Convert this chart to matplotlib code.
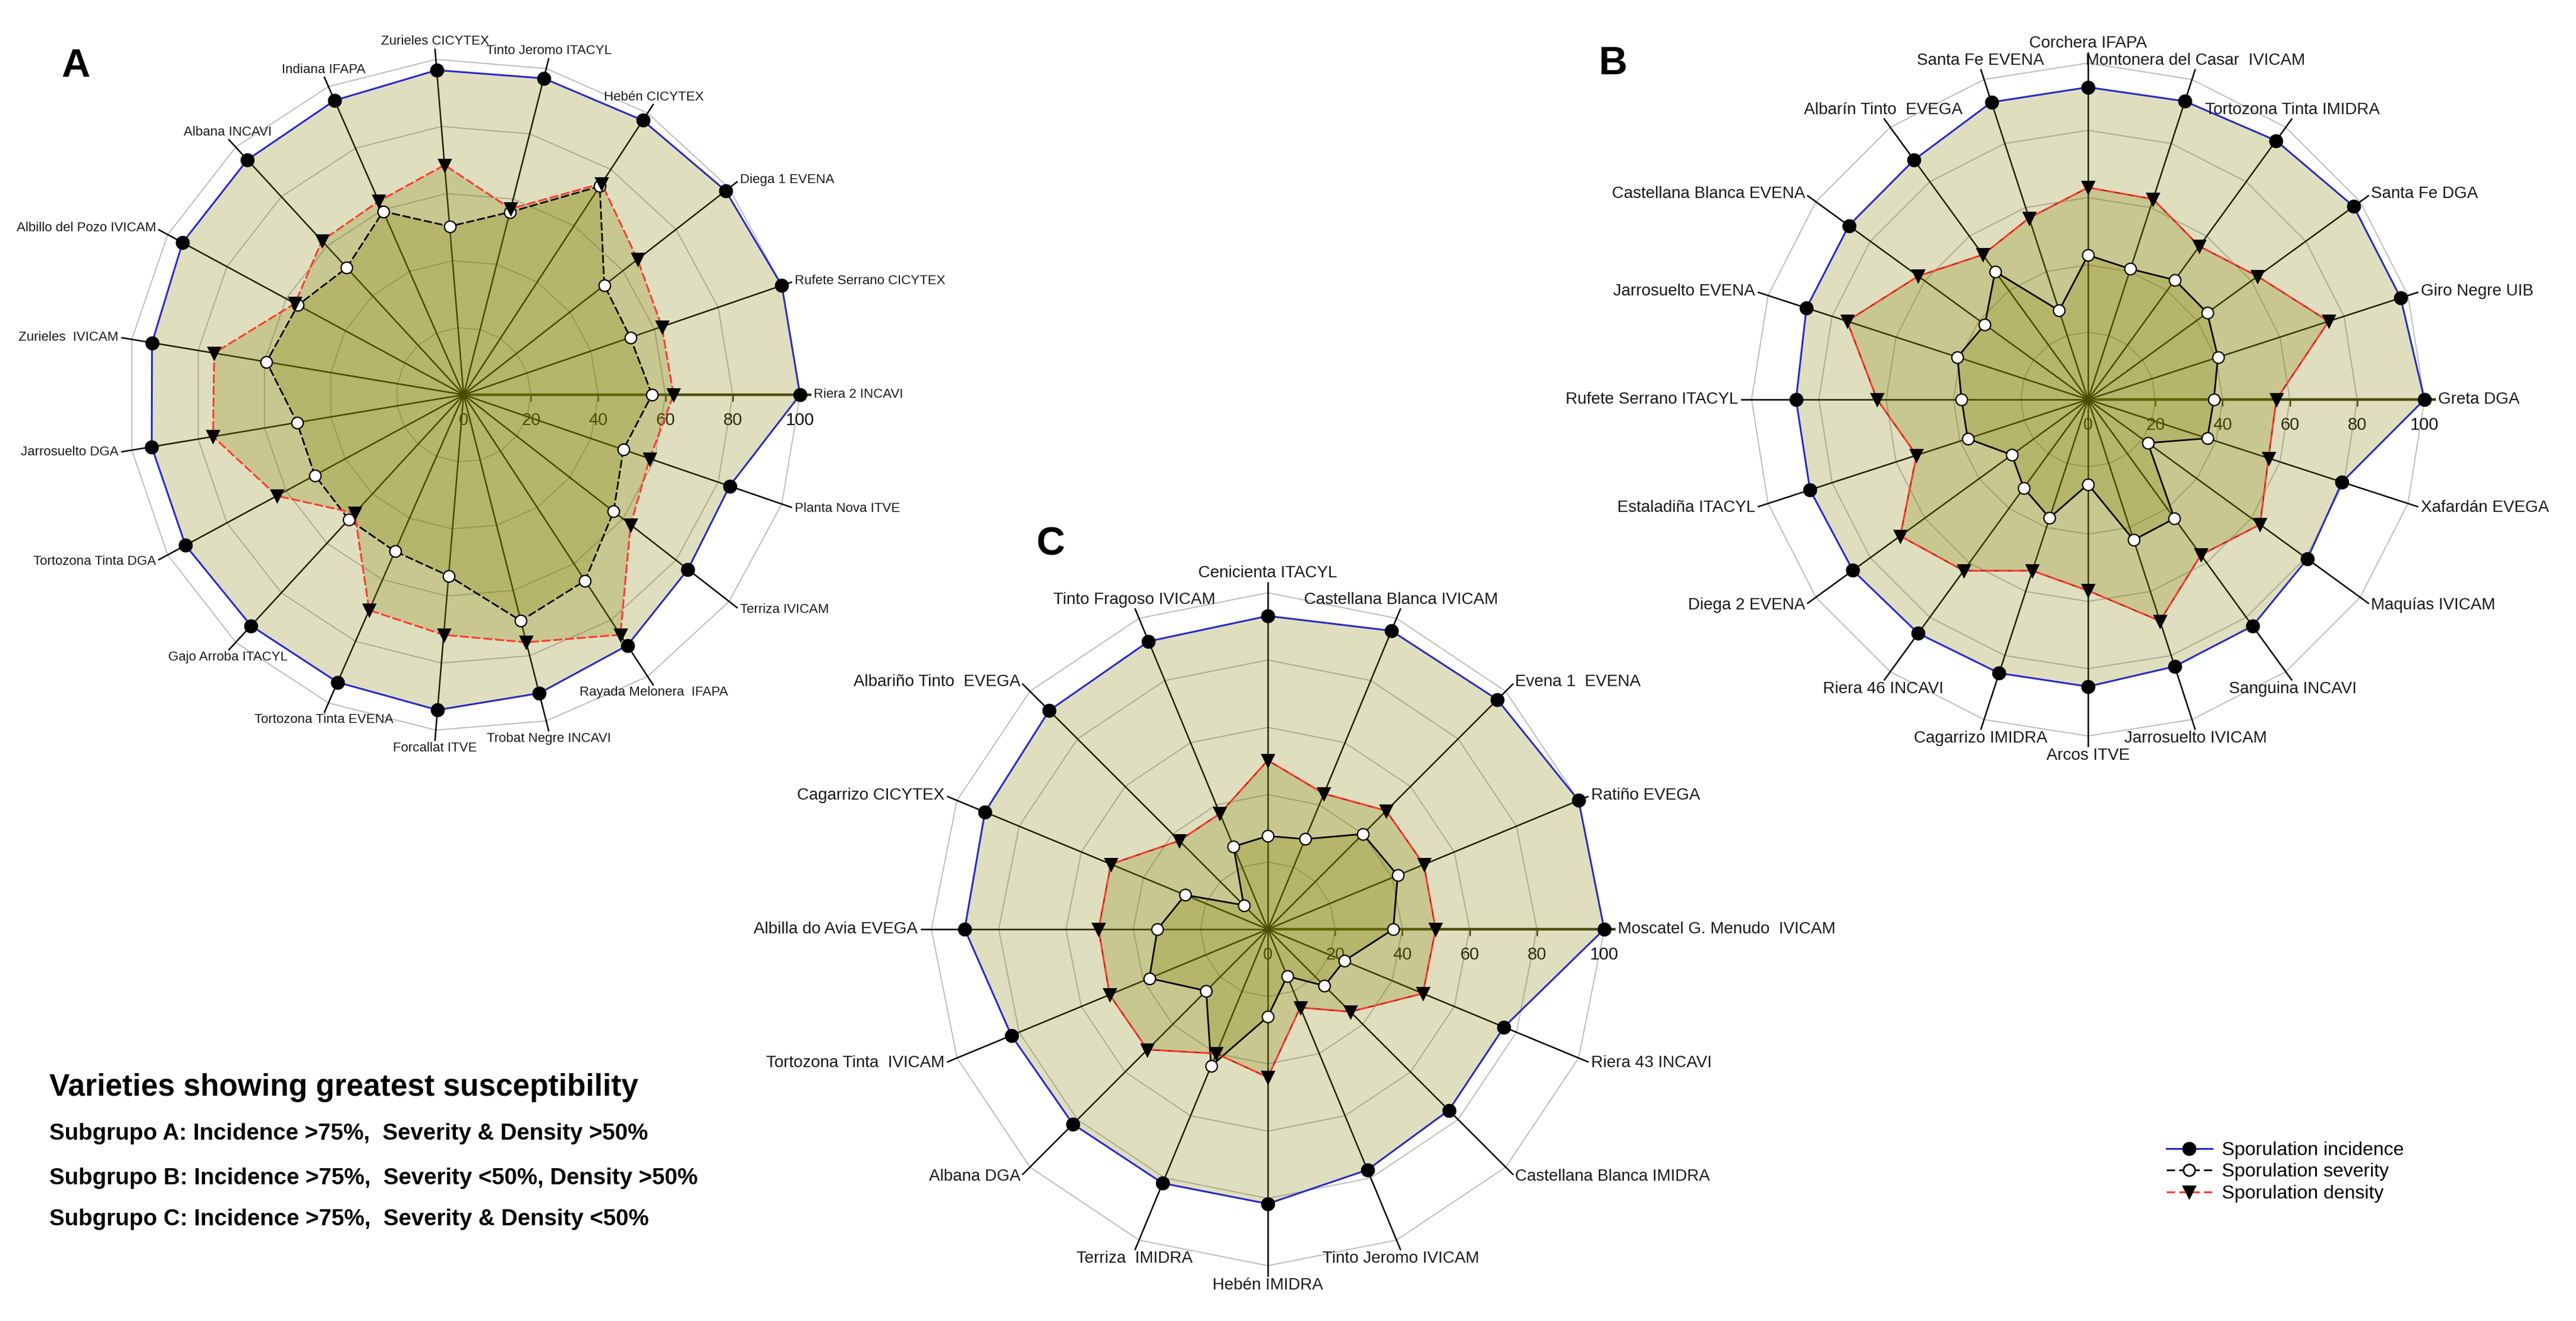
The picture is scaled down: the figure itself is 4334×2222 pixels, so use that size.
import numpy as np
import matplotlib.pyplot as plt
from matplotlib.lines import Line2D

plt.rcParams['font.family'] = ['Liberation Sans', 'DejaVu Sans']
plt.rcParams['lines.scale_dashes'] = False

# ---- data, spokes go counter-clockwise from 3 o'clock ----
labels_a = ["Riera 2 INCAVI", "Rufete Serrano CICYTEX", "Diega 1 EVENA", "Hebén CICYTEX",
            "Tinto Jeromo ITACYL", "Zurieles CICYTEX", "Indiana IFAPA", "Albana INCAVI",
            "Albillo del Pozo IVICAM", "Zurieles  IVICAM", "Jarrosuelto DGA", "Tortozona Tinta DGA",
            "Gajo Arroba ITACYL", "Tortozona Tinta EVENA", "Forcallat ITVE", "Trobat Negre INCAVI",
            "Rayada Melonera  IFAPA", "Terriza IVICAM", "Planta Nova ITVE"]
incidence_a = [100, 100, 98.7, 97.4, 97, 96.8, 95.5, 94.9, 95, 93.9, 94, 94, 93.3, 93.3, 94, 91.5, 89, 84.5, 83.6]
severity_a = [56, 52.4, 53, 74, 56, 50.2, 59.5, 51.3, 56, 59.4, 50.2, 50.3, 50.4, 50.8, 54, 69.3, 66, 56.5, 50.2]
density_a = [62.4, 62.3, 65.5, 75, 57, 68.5, 62.8, 62.2, 57, 75.2, 75.5, 63.1, 47.8, 69.9, 71.6, 75.9, 85.2, 62.9, 58.5]

labels_b = ["Greta DGA", "Giro Negre UIB", "Santa Fe DGA", "Tortozona Tinta IMIDRA",
            "Montonera del Casar  IVICAM", "Corchera IFAPA", "Santa Fe EVENA", "Albarín Tinto  EVEGA",
            "Castellana Blanca EVENA", "Jarrosuelto EVENA", "Rufete Serrano ITACYL", "Estaladiña ITACYL",
            "Diega 2 EVENA", "Riera 46 INCAVI", "Cagarrizo IMIDRA", "Arcos ITVE",
            "Jarrosuelto IVICAM", "Sanguina INCAVI", "Maquías IVICAM", "Xafardán EVEGA"]
incidence_b = [100, 97.7, 97.6, 95.1, 93.2, 92.8, 92.9, 88, 87.9, 88, 86.8, 86.9, 86.4, 85.9, 85.5, 85.3, 83.4, 83.2, 80.6, 79.4]
severity_b = [37.4, 40.6, 43.8, 43.9, 40.8, 42.9, 27.8, 47, 37.9, 40.8, 37.6, 37.6, 28, 32.5, 37, 25.2, 43.9, 43.7, 22, 37.3]
density_b = [56, 75.2, 62.3, 56.3, 62.6, 63, 56.7, 53.2, 62.4, 75.3, 62.7, 53.6, 69, 62.9, 53.5, 56.8, 69.2, 57.1, 63.2, 56.4]

labels_c = ["Moscatel G. Menudo  IVICAM", "Ratiño EVEGA", "Evena 1  EVENA", "Castellana Blanca IVICAM",
            "Cenicienta ITACYL", "Tinto Fragoso IVICAM", "Albariño Tinto  EVEGA", "Cagarrizo CICYTEX",
            "Albilla do Avia EVEGA", "Tortozona Tinta  IVICAM", "Albana DGA", "Terriza  IMIDRA",
            "Hebén IMIDRA", "Tinto Jeromo IVICAM", "Castellana Blanca IMIDRA", "Riera 43 INCAVI"]
incidence_c = [100, 100, 96.5, 96, 93.1, 92.6, 91.9, 91, 90.1, 82.5, 81.9, 81.7, 81.6, 77.4, 76.1, 76]
severity_c = [37.3, 41.8, 40, 29, 27.7, 26.6, 10.1, 26.6, 32.8, 38.1, 25.9, 44, 26, 15.1, 23.8, 24.6]
density_c = [49.9, 50.2, 49.8, 43.6, 50.2, 37.2, 37.2, 50.5, 50.3, 50.9, 50.6, 40, 44, 25.2, 34.7, 49.9]

axis_ticks = [0, 20, 40, 60, 80, 100]
legend_labels = ["Sporulation incidence", "Sporulation severity", "Sporulation density"]
title_text = "Varieties showing greatest susceptibility"
subgroup_text = ["Subgrupo A: Incidence >75%,  Severity & Density >50%",
                 "Subgrupo B: Incidence >75%,  Severity <50%, Density >50%",
                 "Subgrupo C: Incidence >75%,  Severity & Density <50%"]

W, H, DPI = 4334, 2222, 200
PX = 5.66     # pixels per percentage unit
L = 135

fig = plt.figure(figsize=(W / DPI, H / DPI), dpi=DPI)
fig.patch.set_facecolor('white')

OLIVE = (0.5, 0.5, 0.0)
BLUE = '#2a2ac4'
RED = '#ff3b30'


def radar_axes(cx, cy):
    half = L * PX
    ax = fig.add_axes([(cx - half) / W, 1 - (cy + half) / H, 2 * half / W, 2 * half / H])
    ax.set_xlim(-L, L)
    ax.set_ylim(-L, L)
    ax.axis('off')
    return ax


def radar(ax, labels, inc, sev, den, label_size, dashed):
    n = len(labels)
    theta = 2 * np.pi * np.arange(n) / n
    c, s = np.cos(theta), np.sin(theta)
    ring = np.append(theta, theta[0])
    rc, rs = np.cos(ring), np.sin(ring)

    # polygon grid
    for r in axis_ticks[1:]:
        ax.plot(r * rc, r * rs, color='#bcbcbc', lw=0.7, zorder=1)
    # spokes
    for i in range(n):
        if i == 0:
            ax.plot([0, 103 * c[i]], [0, 103 * s[i]], color='#3c3c14', lw=1.6, zorder=2)
        else:
            ax.plot([0, 103 * c[i]], [0, 103 * s[i]], color='black', lw=0.9, zorder=2)
    # axis numbers and little ticks
    for r in axis_ticks:
        ax.text(r, -7.6, str(r), ha='center', va='center', fontsize=10.5, color='#111111', zorder=2)
        if r > 0:
            ax.plot([r, r], [0, -1.8], color='#3c3c14', lw=0.9, zorder=2)

    # filled areas
    for vals in (inc, sev, den):
        v = np.append(vals, vals[0])
        ax.fill(v * rc, v * rs, color=OLIVE, alpha=0.25, lw=0, zorder=3)

    vi = np.append(inc, inc[0])
    vs = np.append(sev, sev[0])
    vd = np.append(den, den[0])
    ax.plot(vi * rc, vi * rs, color=BLUE, lw=1.1, zorder=4)
    if dashed:
        ax.plot(vs * rc, vs * rs, color='black', lw=1.0, ls=(0, (5, 1.6)), zorder=4)
        ax.plot(vd * rc, vd * rs, color=RED, lw=1.1, ls=(0, (5.5, 1.6)), zorder=4)
    else:
        ax.plot(vs * rc, vs * rs, color='black', lw=1.0, zorder=4)
        ax.plot(vd * rc, vd * rs, color=RED, lw=1.1, zorder=4)
        ax.plot(vd * rc, vd * rs, color='#222222', lw=0.5, ls=(0, (3, 5)), alpha=0.6, zorder=4)

    inc = np.asarray(inc)
    sev = np.asarray(sev)
    den = np.asarray(den)
    ax.plot(inc * c, inc * s, 'o', ms=7.5, mfc='black', mec='black', zorder=5)
    ax.plot(sev * c, sev * s, 'o', ms=7, mfc='white', mec='black', mew=0.8, zorder=5)
    ax.plot(den * c, den * s, 'v', ms=7, mfc='black', mec='black', zorder=6)

    # spoke labels
    for i, lab in enumerate(labels):
        if c[i] > 0.7:
            ha, va, rr = 'left', 'center', 104
        elif c[i] < -0.7:
            ha, va, rr = 'right', 'center', 104
        else:
            ha = 'center'
            va = 'bottom' if s[i] > 0 else 'top'
            rr = 103.5
        ax.text(rr * c[i], rr * s[i], lab, ha=ha, va=va, fontsize=label_size,
                color='#1a1a1a', zorder=7, clip_on=False)


ax_a = radar_axes(780, 664)
radar(ax_a, labels_a, incidence_a, severity_a, density_a, 8, True)
ax_b = radar_axes(3513, 672)
radar(ax_b, labels_b, incidence_b, severity_b, density_b, 10, False)
ax_c = radar_axes(2133, 1563)
radar(ax_c, labels_c, incidence_c, severity_c, density_c, 10, False)

# panel letters
for letter, (px, py) in zip(["A", "B", "C"], [(127, 112), (2714, 108), (1767, 916)]):
    fig.text(px / W, 1 - py / H, letter, fontsize=24, fontweight='bold', ha='center', va='center')

# text block
fig.text(83 / W, 1 - 1830 / H, title_text, fontsize=18.5, fontweight='bold', ha='left', va='center')
for txt, py in zip(subgroup_text, [1907, 1982, 2051]):
    fig.text(83 / W, 1 - py / H, txt, fontsize=13.8, fontweight='bold', ha='left', va='center')

# legend
handles = [
    Line2D([], [], color=BLUE, lw=1.1, marker='o', ms=7.5, mfc='black', mec='black'),
    Line2D([], [], color='black', lw=1.0, ls=(0, (5, 2.5)), marker='o', ms=7, mfc='white', mec='black'),
    Line2D([], [], color=RED, lw=1.1, ls=(0, (5, 2.5)), marker='v', ms=7, mfc='black', mec='black'),
]
fig.legend(handles, legend_labels, loc='upper left', bbox_to_anchor=(3645 / W, 1 - 1920 / H),
           frameon=False, fontsize=11.5, handlelength=2.4, handletextpad=0.5,
           labelspacing=0.2, borderpad=0, borderaxespad=0)

fig.savefig('out.png', dpi=DPI, facecolor='white')
